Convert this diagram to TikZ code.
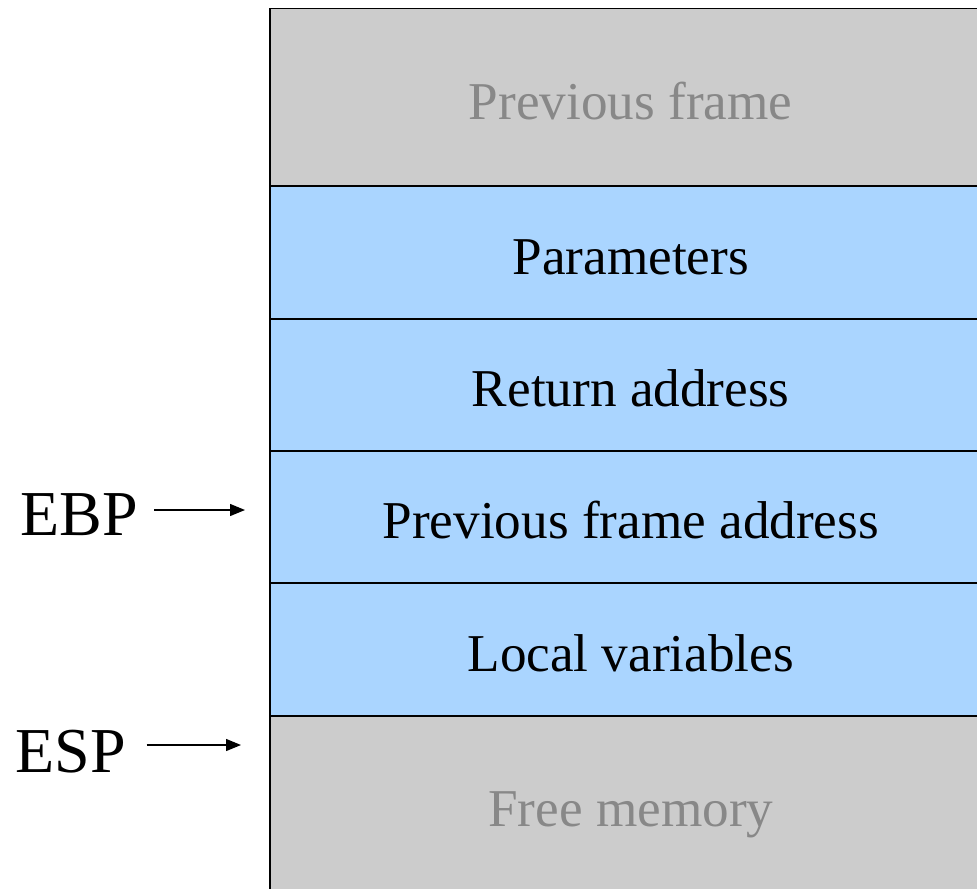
\documentclass[tikz,border=0pt]{standalone}
\usepackage{fontspec}
\setmainfont{Liberation Serif}
\usetikzlibrary{arrows.meta}
\definecolor{framegray}{RGB}{204,204,204}
\definecolor{frameblue}{RGB}{170,213,255}
\definecolor{labelgray}{RGB}{136,136,136}
\tikzset{
  row/.style      = {draw, line width=0.75pt, rectangle, anchor=north west,
                     minimum width=361pt, inner sep=0pt, text height=22pt, text depth=0pt,
                     font=\fontsize{26.6}{30}\selectfont},
  grayrow/.style  = {row, fill=framegray, text=labelgray},
  bluerow/.style  = {row, fill=frameblue},
  reg/.style      = {font=\fontsize{32}{36}\selectfont, inner sep=2pt},
  ptr/.style      = {-{Triangle[length=7.5pt,width=6pt]}, line width=0.65pt}
}

\begin{document}
\begin{tikzpicture}[x=0.5pt,y=-0.5pt]
	\useasboundingbox (0,0) rectangle (977,888);
	\node[grayrow, minimum height=88.5pt] (prev)   at (269,8)   {Previous frame};
	\node[bluerow, minimum height=66.5pt] (params) at (269,185) {Parameters};
	\node[bluerow, minimum height=66pt]   (ret)    at (269,318) {Return address};
	\node[bluerow, minimum height=66pt]   (pfa)    at (269,450) {Previous frame address};
	\node[bluerow, minimum height=66.5pt] (locals) at (269,582) {Local variables};
	\node[grayrow, minimum height=89pt]   (free)   at (269,715) {Free memory};
	\node[reg] (ebp) at (79,515) {EBP};
	\node[reg] (esp) at (71,752) {ESP};
	\coordinate (ebpat) at (245,510);
	\coordinate (espat) at (241,745);
	\draw[ptr] (ebp.east |- ebpat) ++(12,0) -- (ebpat);
	\draw[ptr] (esp.east |- espat) ++(16,0) -- (espat);
\end{tikzpicture}
\end{document}
